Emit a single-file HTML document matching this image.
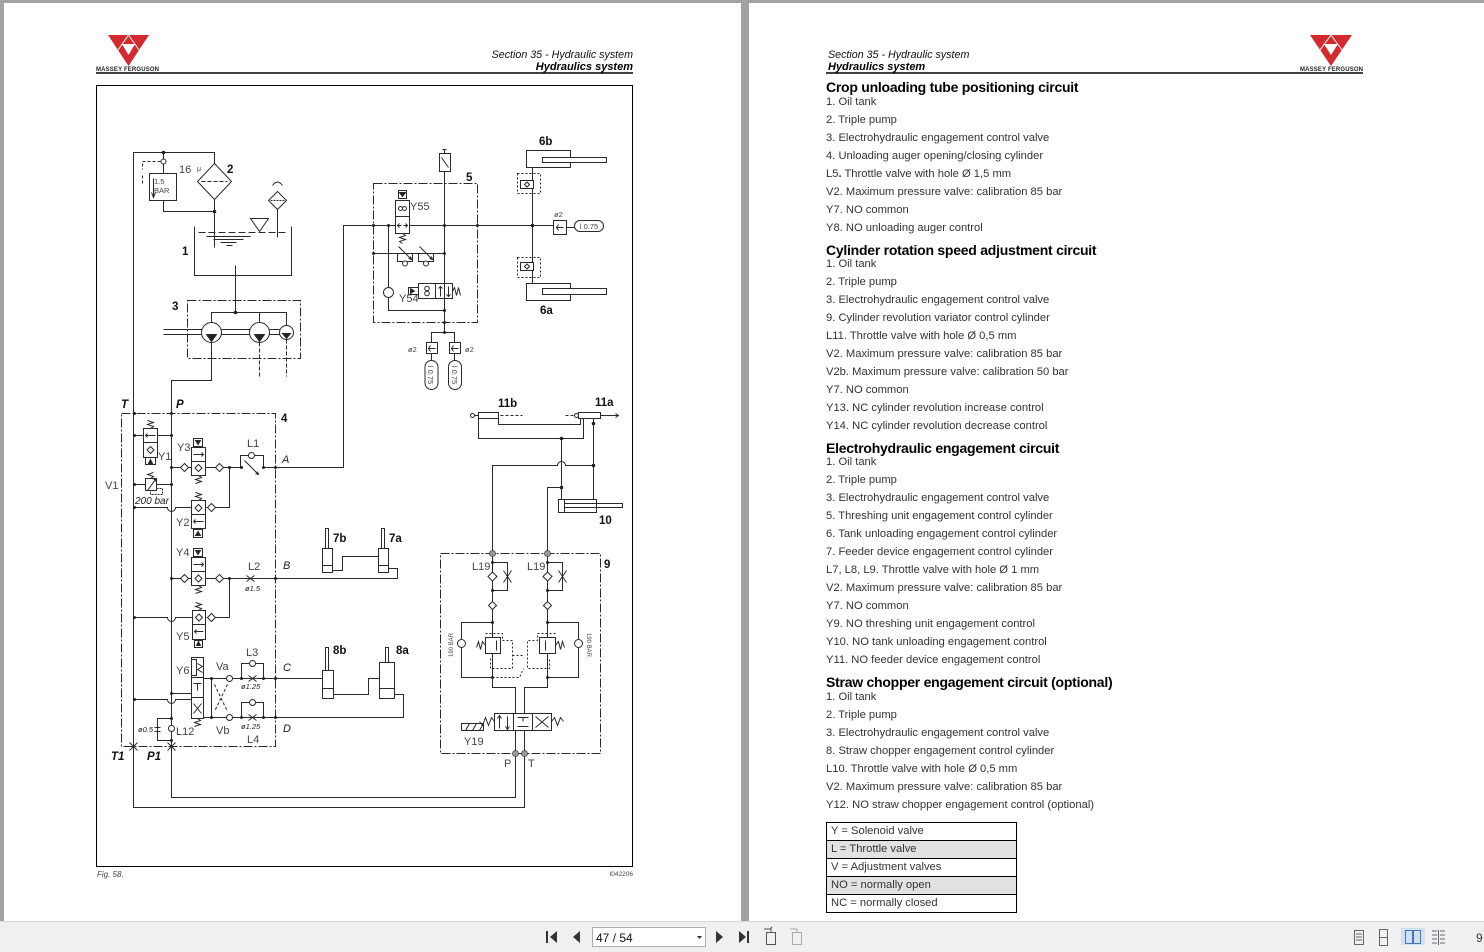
<!DOCTYPE html>
<html><head><meta charset="utf-8">
<style>
html,body{margin:0;padding:0;}
body{width:1484px;height:952px;position:relative;overflow:hidden;background:#a3a3a3;font-family:"Liberation Sans",sans-serif;}
.pg{position:absolute;background:#fff;}
.it{position:absolute;left:826px;font-size:11.2px;color:#333;line-height:14px;white-space:nowrap;}
.h{position:absolute;left:826px;font-size:14px;font-weight:bold;letter-spacing:-0.25px;color:#000;line-height:16px;white-space:nowrap;}
table.lg{position:absolute;left:826px;top:822px;width:191px;border-collapse:collapse;}
table.lg td{border:1px solid #000;height:17px;padding:0 0 0 4px;font-size:11.2px;color:#333;line-height:17px;white-space:nowrap;}
svg{position:absolute;left:0;top:0;}
</style></head><body>
<div class="pg" style="left:4px;top:3px;width:737px;height:920px"></div>
<div class="pg" style="left:749px;top:3px;width:735px;height:920px"></div>

<div class="h" style="top:79px">Crop unloading tube positioning circuit</div>
<div class="it" style="top:95px">1. Oil tank</div>
<div class="it" style="top:113px">2. Triple pump</div>
<div class="it" style="top:131px">3. Electrohydraulic engagement control valve</div>
<div class="it" style="top:149px">4. Unloading auger opening/closing cylinder</div>
<div class="it" style="top:167px">L5<b>.</b> Throttle valve with hole Ø 1,5 mm</div>
<div class="it" style="top:185px">V2. Maximum pressure valve: calibration 85 bar</div>
<div class="it" style="top:203px">Y7. NO common</div>
<div class="it" style="top:221px">Y8. NO unloading auger control</div>

<div class="h" style="top:242px">Cylinder rotation speed adjustment circuit</div>
<div class="it" style="top:257px">1. Oil tank</div>
<div class="it" style="top:275px">2. Triple pump</div>
<div class="it" style="top:293px">3. Electrohydraulic engagement control valve</div>
<div class="it" style="top:311px">9. Cylinder revolution variator control cylinder</div>
<div class="it" style="top:329px">L11. Throttle valve with hole Ø 0,5 mm</div>
<div class="it" style="top:347px">V2. Maximum pressure valve: calibration 85 bar</div>
<div class="it" style="top:365px">V2b. Maximum pressure valve: calibration 50 bar</div>
<div class="it" style="top:383px">Y7. NO common</div>
<div class="it" style="top:401px">Y13. NC cylinder revolution increase control</div>
<div class="it" style="top:419px">Y14. NC cylinder revolution decrease control</div>

<div class="h" style="top:440px">Electrohydraulic engagement circuit</div>
<div class="it" style="top:455px">1. Oil tank</div>
<div class="it" style="top:473px">2. Triple pump</div>
<div class="it" style="top:491px">3. Electrohydraulic engagement control valve</div>
<div class="it" style="top:509px">5. Threshing unit engagement control cylinder</div>
<div class="it" style="top:527px">6. Tank unloading engagement control cylinder</div>
<div class="it" style="top:545px">7. Feeder device engagement control cylinder</div>
<div class="it" style="top:563px">L7, L8, L9. Throttle valve with hole Ø 1 mm</div>
<div class="it" style="top:581px">V2. Maximum pressure valve: calibration 85 bar</div>
<div class="it" style="top:599px">Y7. NO common</div>
<div class="it" style="top:617px">Y9. NO threshing unit engagement control</div>
<div class="it" style="top:635px">Y10. NO tank unloading engagement control</div>
<div class="it" style="top:653px">Y11. NO feeder device engagement control</div>

<div class="h" style="top:674px">Straw chopper engagement circuit (optional)</div>
<div class="it" style="top:690px">1. Oil tank</div>
<div class="it" style="top:708px">2. Triple pump</div>
<div class="it" style="top:726px">3. Electrohydraulic engagement control valve</div>
<div class="it" style="top:744px">8. Straw chopper engagement control cylinder</div>
<div class="it" style="top:762px">L10. Throttle valve with hole Ø 0,5 mm</div>
<div class="it" style="top:780px">V2. Maximum pressure valve: calibration 85 bar</div>
<div class="it" style="top:798px">Y12. NO straw chopper engagement control (optional)</div>

<table class="lg">
<tr><td>Y = Solenoid valve</td></tr>
<tr><td style="background:#e2e2e2">L = Throttle valve</td></tr>
<tr><td>V = Adjustment valves</td></tr>
<tr><td style="background:#e2e2e2">NO = normally open</td></tr>
<tr><td>NC = normally closed</td></tr>
</table>

<svg width="1484" height="952" viewBox="0 0 1484 952">
<!-- logos -->
<polygon points="108,35 149,35 128.5,66" fill="#d42a2f"/>
<polygon points="122,44 135,44 128.5,55" fill="#fff"/>
<path d="M118 50L128.5 35L139 50" stroke="#fff" stroke-width="1" fill="none"/>
<text x="96" y="71" font-size="6" font-weight="bold" fill="#222" letter-spacing="0.15">MASSEY FERGUSON</text>
<polygon points="1310,35 1352,35 1331,66" fill="#d42a2f"/>
<polygon points="1324,44 1338,44 1331,55" fill="#fff"/>
<path d="M1320 50L1331 35L1342 50" stroke="#fff" stroke-width="1" fill="none"/>
<text x="1300" y="71" font-size="6" font-weight="bold" fill="#222" letter-spacing="0.15">MASSEY FERGUSON</text>

<!-- headers -->
<text x="633" y="58" font-size="10.7" font-style="italic" text-anchor="end" fill="#111">Section 35 - Hydraulic system</text>
<text x="633" y="70" font-size="11" font-style="italic" font-weight="bold" text-anchor="end" fill="#000">Hydraulics system</text>
<text x="828" y="58" font-size="10.7" font-style="italic" fill="#111">Section 35 - Hydraulic system</text>
<text x="828" y="70" font-size="11" font-style="italic" font-weight="bold" fill="#000">Hydraulics system</text>
<line x1="96" y1="73" x2="633" y2="73" stroke="#000" stroke-width="1.5"/>
<line x1="826" y1="73" x2="1363" y2="73" stroke="#000" stroke-width="1.5"/>
<rect x="96.5" y="85.5" width="536" height="781" fill="none" stroke="#000" stroke-width="1"/>
<text x="97" y="877" font-size="8" font-style="italic" fill="#444">Fig. 58.</text>
<text x="633" y="876" font-size="6.5" text-anchor="end" fill="#444">I042206</text>

<g transform="translate(0.5,0.5)" fill="none" stroke="#2a2a2a" stroke-width="1">
<!-- main lines -->
<path d="M214 163V152H133V807H524V753"/>
<path d="M211 342V380H171V797H515V753"/>
<!-- 1.5 bar relief -->
<path d="M163 152V173"/>
<circle cx="163" cy="161" r="2.5" fill="#fff"/>
<path d="M160 161H142V169M142 175V183" stroke-dasharray="3 2"/>
<rect x="149" y="173" width="27" height="27"/>
<path d="M153 178V196M151 192L153 197L155 192"/>
<path d="M163 200V211H214"/>
<!-- filter -->
<path d="M214 163L231 181L214 199L197 181Z"/>
<path d="M201 181H227" stroke-dasharray="4 2"/>
<path d="M214 199V247"/>
<!-- tank -->
<path d="M194 226V275H291V226"/>
<path d="M198 232H287" stroke-dasharray="7 3"/>
<path d="M206 236H250M213 239H243M220 242H236M226 245H232"/>
<path d="M250 218H268L259 231Z"/>
<path d="M277 237V209"/>
<path d="M277 191L286 200L277 209L268 200Z"/>
<path d="M270 200H284" stroke-dasharray="2 1"/>
<path d="M272 185Q277 178 282 185"/>
<path d="M235 265V312"/>
<path d="M211 322V312H286V325M259 312V322"/>
<!-- box 3 pumps -->
<rect x="187" y="300" width="113" height="58" stroke-dasharray="9 2 2 2"/>
<path d="M163 329H286M163 334H286"/>
<circle cx="211" cy="332" r="10" fill="#fff"/>
<circle cx="259" cy="332" r="10" fill="#fff"/>
<circle cx="286" cy="332" r="7" fill="#fff"/>
<path d="M206 334H216L211 341Z M254 334H264L259 341Z M282 333H290L286 338Z" fill="#222"/>
<path d="M259 342V376M286 339V376" stroke-dasharray="4 2"/>

<!-- box 5 -->
<path d="M263 467H343V225H553"/>
<rect x="373" y="183" width="104" height="139" stroke-dasharray="9 2 2 2"/>
<path d="M444 171V332"/>
<rect x="439" y="153" width="11" height="18" fill="#fff"/>
<path d="M441 157L448 167M444 153V149M442 149H446"/>
<rect x="395" y="200" width="14" height="33" fill="#fff"/>
<path d="M395 216H409M397 225H401M403 225H407M399 223L397 225L399 227M405 223L407 225L405 227"/>
<circle cx="400" cy="208" r="2"/><circle cx="404" cy="208" r="2"/>
<rect x="398" y="190" width="8" height="8"/>
<path d="M399 192H405L402 196Z" fill="#222"/>
<path d="M402 233L405 235L399 237L405 239L399 241L402 243"/>
<path d="M388 225V287M388 297V310H444"/>
<circle cx="388" cy="292" r="5" fill="#fff"/>
<path d="M373 253H444"/>
<path d="M397 253V261H412V253M418 253V261H433V253"/>
<circle cx="404.5" cy="263" r="2.5" fill="#fff"/><circle cx="425.5" cy="263" r="2.5" fill="#fff"/>
<path d="M398 246L411 259M408 258L411 259L410 256M419 246L432 259M429 258L432 259L431 256"/>
<rect x="418" y="283" width="34" height="15" fill="#fff"/>
<path d="M435 283V298M440 286V296M438 288L440 286L442 288M448 286V296M446 294L448 296L450 294M444 283V298"/>
<circle cx="426.5" cy="288" r="2.3"/><circle cx="426.5" cy="293" r="2.3"/>
<rect x="408" y="287" width="10" height="7"/>
<path d="M410 288L414 290.5L410 293Z" fill="#222"/>
<path d="M452 291L454 287L456 295L458 287L460 295"/>
<path d="M431 342V332H454V342"/>
<rect x="426" y="342" width="11" height="11" fill="#fff"/>
<rect x="449" y="342" width="11" height="11" fill="#fff"/>
<path d="M428 348H435M430 345L428 348L430 351M451 348H458M453 345L451 348L453 351"/>
<path d="M431 353V360M454 353V360"/>
<rect x="424.5" y="360" width="13" height="29" rx="6.5" fill="#fff"/>
<rect x="448" y="360" width="13" height="29" rx="6.5" fill="#fff"/>
<!-- 6a/6b -->
<rect x="526" y="150" width="44" height="17" fill="#fff"/>
<rect x="542" y="157" width="64" height="5" fill="#fff"/>
<path d="M532 167V283"/>
<rect x="517" y="173" width="23" height="20" stroke-dasharray="2 2"/>
<rect x="520" y="180" width="13" height="8" fill="#fff"/>
<path d="M524 184L526.5 181.5L529 184L526.5 186.5Z"/>
<rect x="517" y="257" width="23" height="20" stroke-dasharray="2 2"/>
<rect x="520" y="262" width="13" height="8" fill="#fff"/>
<path d="M524 266L526.5 263.5L529 266L526.5 268.5Z"/>
<rect x="553" y="220" width="13" height="14" fill="#fff"/>
<path d="M556 227H563M558 224L556 227L558 230"/>
<path d="M566 227H574"/>
<rect x="574" y="220" width="29" height="11" rx="5.5" fill="#fff"/>
<rect x="526" y="283" width="44" height="17" fill="#fff"/>
<rect x="542" y="288" width="64" height="6" fill="#fff"/>

<!-- box 4 -->
<rect x="121" y="413" width="154" height="333" stroke-dasharray="9 2 2 2"/>
<path d="M134 435H171"/>
<rect x="143" y="428" width="14" height="29" fill="#fff"/>
<path d="M143 442H157M145 435H155M147 433L145 435L147 437"/>
<path d="M150 446L153.5 449.5L150 453L146.5 449.5Z"/>
<path d="M150 428L153 426L147 424L153 422L147 420"/>
<rect x="145" y="457" width="10" height="7"/>
<path d="M148 463L150 459L152 463Z" fill="#222"/>
<path d="M134 484H171"/>
<rect x="145" y="478" width="11" height="12" fill="#fff"/>
<path d="M147 490L155 479M153 479H155V481M150 478L153 476L147 474L153 472"/>
<path d="M156 488H162V494H150V490" stroke-dasharray="2 1"/>
<path d="M171 467H240"/>
<rect x="191" y="447" width="14" height="28" fill="#fff"/>
<path d="M191 461H205M193 454H203M201 452L203 454L201 456"/>
<path d="M198 464L201.5 467.5L198 471L194.5 467.5Z"/>
<rect x="193" y="438" width="9" height="8"/>
<path d="M195 440H200L197.5 444Z" fill="#222"/>
<path d="M198 475L201 477L195 479L201 481L195 483"/>
<path d="M184 463L188 467L184 471L180 467Z M219 463L223 467L219 471L215 467Z" fill="#fff"/>
<path d="M240 467V455H263V467"/>
<circle cx="251" cy="455" r="3" fill="#fff"/>
<path d="M244 460L258 474M255 473L258 474L257 471"/>
<path d="M229 467V507H206"/>
<path d="M134 507H167A4 4 0 0 0 175 507H191"/>
<rect x="191" y="500" width="14" height="28" fill="#fff"/>
<path d="M191 514H205M193 521H203M195 519L193 521L195 523"/>
<path d="M198 504L201.5 507.5L198 511L194.5 507.5Z"/>
<path d="M198 500L201 498L195 496L201 494L195 492"/>
<rect x="193" y="529" width="9" height="8"/>
<path d="M195 535L197.5 531L200 535Z" fill="#222"/>
<path d="M211 503L215 507L211 511L207 507Z" fill="#fff"/>
<!-- Y4 -->
<path d="M171 578H397V568H388"/>
<rect x="191" y="557" width="14" height="28" fill="#fff"/>
<path d="M191 571H205M193 564H203M201 562L203 564L201 566"/>
<path d="M198 574.5L201.5 578L198 581.5L194.5 578Z"/>
<rect x="193" y="548" width="9" height="8"/>
<path d="M195 550H200L197.5 554Z" fill="#222"/>
<path d="M198 585L201 587L195 589L201 591L195 593"/>
<path d="M184 574L188 578L184 582L180 578Z M219 574L223 578L219 582L215 578Z" fill="#fff"/>
<path d="M246 575L250 578L246 581M254 575L250 578L254 581"/>
<path d="M229 578V617H206"/>
<!-- Y5 -->
<path d="M134 617H167A4 4 0 0 0 175 617H192"/>
<rect x="192" y="610" width="13" height="29" fill="#fff"/>
<path d="M192 624H205M194 631H203M196 629L194 631L196 633"/>
<path d="M198.5 613.5L202 617L198.5 620.5L195 617Z"/>
<path d="M198 610L201 608L195 606L201 604L195 602"/>
<rect x="194" y="640" width="8" height="7"/>
<path d="M196 645L198 641L200 645Z" fill="#222"/>
<path d="M211 613L215 617L211 621L207 617Z" fill="#fff"/>
<!-- Y6 -->
<path d="M171 693H191"/>
<path d="M134 699H167A4 4 0 0 0 175 699H191"/>
<rect x="191" y="657" width="12" height="61" fill="#fff"/>
<path d="M191 677H203M191 697H203M193 683L201 683M197 683V690M193 703L201 713M201 703L193 713"/>
<rect x="191" y="659" width="5" height="16"/>
<path d="M197 663L202 666L197 669L202 672"/>
<path d="M197 718L200 720L194 722L200 724L194 726"/>
<path d="M203 678H322M203 717H403V694H394"/>
<path d="M211 678V717"/>
<path d="M214 684L227 711M227 684L214 711" stroke-dasharray="3 2"/>
<circle cx="229" cy="678" r="3" fill="#fff"/>
<circle cx="229" cy="717" r="3" fill="#fff"/>
<path d="M241 678V663H263V678M241 717V702H263V717"/>
<circle cx="252" cy="663" r="3" fill="#fff"/>
<circle cx="252" cy="702" r="3" fill="#fff"/>
<path d="M248 675L252 678L248 681M256 675L252 678L256 681M248 714L252 717L248 720M256 714L252 717L256 720"/>
<!-- 8b 8a -->
<rect x="322" y="670" width="11" height="28" fill="#fff"/>
<rect x="325" y="647" width="3" height="23" fill="#fff"/>
<path d="M322 688H333"/>
<rect x="379" y="662" width="15" height="36" fill="#fff"/>
<rect x="385" y="647" width="3" height="15" fill="#fff"/>
<path d="M379 688H394"/>
<path d="M333 694H368V678H379"/>
<!-- L12 -->
<circle cx="171" cy="728" r="3" fill="#fff"/>
<path d="M171 718H157V740H171M154 727H160M154 731H160"/>
<path d="M129 742L137 750M137 742L129 750M167 742L175 750M175 742L167 750"/>
<!-- 7b 7a -->
<rect x="322" y="548" width="10" height="24" fill="#fff"/>
<rect x="325" y="528" width="3" height="20" fill="#fff"/>
<path d="M322 565H332"/>
<rect x="378" y="548" width="10" height="24" fill="#fff"/>
<rect x="381" y="528" width="3" height="20" fill="#fff"/>
<path d="M378 565H388"/>
<path d="M332 570H342V556H378"/>

<!-- 11a/11b, 10 -->
<rect x="478" y="412" width="20" height="6" fill="#fff"/>
<path d="M474 415H478"/><circle cx="472" cy="415" r="2"/>
<path d="M500 415H522" stroke-dasharray="3 2"/>
<rect x="578" y="412" width="22" height="6" fill="#fff"/>
<circle cx="576" cy="415" r="2"/>
<path d="M565 415H574" stroke-dasharray="3 2"/>
<path d="M600 415H618M615 413L618 415L615 417"/>
<path d="M478 418V438H583V418"/>
<path d="M498 418V424H580V418"/>
<path d="M593 418V499"/>
<path d="M561 438V499M561 487H547V553"/>
<path d="M492 553V465H557A4 4 0 0 1 565 465H593"/>
<rect x="558" y="499" width="38" height="13" fill="#fff"/>
<path d="M564 499V512M564 503H622V507H564"/>
<!-- box 9 -->
<rect x="440" y="553" width="160" height="200" stroke-dasharray="9 2 2 2"/>
<path d="M492 553V687H515V713M547 553V687H524V713"/>
<path d="M492 562H507V590H492M547 562H562V590H547"/>
<path d="M492 571.5L496.5 576L492 580.5L487.5 576Z M547 571.5L551.5 576L547 580.5L542.5 576Z" fill="#fff"/>
<path d="M503 570L511 582M511 570L503 582M558 570L566 582M566 570L558 582"/>
<path d="M492 601L496 605L492 609L488 605Z M547 601L551 605L547 609L543 605Z" fill="#fff"/>
<path d="M492 622H461V677H492M547 622H578V677H547"/>
<circle cx="461" cy="643" r="4" fill="#fff"/>
<circle cx="578" cy="643" r="4" fill="#fff"/>
<rect x="485" y="637" width="15" height="16" fill="#fff"/>
<rect x="539" y="637" width="16" height="16" fill="#fff"/>
<path d="M485 645L482 641L480 649L478 641L476 647M555 645L558 641L560 649L562 641L564 647"/>
<path d="M496 640V650M545 640V650"/>
<path d="M485 633H502V640H512V668H490V658M555 633H537V640H527V668H549V658M492 677H519L523 668M512 655H522" stroke-dasharray="2 2"/>
<rect x="494" y="713" width="19" height="17" fill="#fff"/>
<rect x="513" y="713" width="19" height="17" fill="#fff"/>
<rect x="532" y="713" width="19" height="17" fill="#fff"/>
<path d="M499 728V716M497 718L499 715L501 718M507 716V728M505 726L507 729L509 726"/>
<path d="M517 717H528M522.5 717V721M517 726H528"/>
<path d="M535 716L548 727M548 716L535 727"/>
<path d="M494 721L491 717L488 725L485 717L482 725L479 721M551 721L554 717L557 725L560 717L563 721"/>
<rect x="461" y="723" width="22" height="7"/>
<path d="M465 730L469 723M472 730L476 723M479 730L483 723"/>
<path d="M515 730V753M524 730V753"/>
</g>
<!-- dots -->
<g fill="#222">
<circle cx="163.5" cy="152.5" r="1.8"/><circle cx="214.5" cy="211.5" r="1.8"/><circle cx="235.5" cy="312.5" r="1.8"/>
<circle cx="373.5" cy="225.5" r="1.5"/><circle cx="388.5" cy="225.5" r="1.5"/><circle cx="444.5" cy="225.5" r="1.5"/><circle cx="477.5" cy="225.5" r="1.5"/>
<circle cx="532.5" cy="225.5" r="1.8"/><circle cx="444.5" cy="253.5" r="1.5"/><circle cx="373.5" cy="253.5" r="1.5"/><circle cx="444.5" cy="310.5" r="1.5"/><circle cx="444.5" cy="322.5" r="1.5"/><circle cx="444.5" cy="332.5" r="1.5"/>
<circle cx="561.5" cy="438.5" r="1.8"/><circle cx="593.5" cy="465.5" r="1.8"/><circle cx="561.5" cy="487.5" r="1.8"/><circle cx="593.5" cy="423.5" r="1.8"/>
<circle cx="134.5" cy="413.5" r="1.5"/><circle cx="171.5" cy="413.5" r="1.5"/><circle cx="134.5" cy="435.5" r="1.5"/><circle cx="171.5" cy="435.5" r="1.5"/><circle cx="134.5" cy="484.5" r="1.5"/><circle cx="171.5" cy="484.5" r="1.5"/><circle cx="171.5" cy="467.5" r="1.5"/><circle cx="229.5" cy="467.5" r="1.5"/><circle cx="241.5" cy="467.5" r="1.5"/><circle cx="263.5" cy="467.5" r="1.5"/><circle cx="275.5" cy="467.5" r="1.5"/>
<circle cx="171.5" cy="578.5" r="1.5"/><circle cx="229.5" cy="578.5" r="1.5"/><circle cx="275.5" cy="578.5" r="1.5"/><circle cx="134.5" cy="507.5" r="1.5"/><circle cx="134.5" cy="617.5" r="1.5"/><circle cx="134.5" cy="699.5" r="1.5"/><circle cx="171.5" cy="693.5" r="1.5"/>
<circle cx="211.5" cy="678.5" r="1.5"/><circle cx="211.5" cy="717.5" r="1.5"/><circle cx="241.5" cy="678.5" r="1.5"/><circle cx="263.5" cy="678.5" r="1.5"/><circle cx="241.5" cy="717.5" r="1.5"/><circle cx="263.5" cy="717.5" r="1.5"/><circle cx="275.5" cy="678.5" r="1.5"/><circle cx="275.5" cy="717.5" r="1.5"/><circle cx="171.5" cy="718.5" r="1.5"/><circle cx="171.5" cy="740.5" r="1.5"/>
<circle cx="492.5" cy="622.5" r="1.5"/><circle cx="492.5" cy="677.5" r="1.5"/><circle cx="547.5" cy="622.5" r="1.5"/><circle cx="547.5" cy="677.5" r="1.5"/><circle cx="492.5" cy="562.5" r="1.5"/><circle cx="492.5" cy="590.5" r="1.5"/><circle cx="547.5" cy="562.5" r="1.5"/><circle cx="547.5" cy="590.5" r="1.5"/>
</g>
<g fill="#999" stroke="#444" stroke-width="0.8">
<circle cx="492.5" cy="553.5" r="3"/><circle cx="547.5" cy="553.5" r="3"/><circle cx="515.5" cy="753.5" r="3"/><circle cx="524.5" cy="753.5" r="3"/>
</g>
<!-- diagram labels -->
<g font-family="Liberation Sans, sans-serif" fill="#111" font-weight="bold" font-size="11.5">
<text x="227" y="173">2</text><text x="182" y="255">1</text><text x="172" y="310">3</text><text x="466" y="181">5</text>
<text x="539" y="145">6b</text><text x="540" y="314">6a</text><text x="281" y="422">4</text>
<text x="333" y="542">7b</text><text x="389" y="542">7a</text><text x="333" y="654">8b</text><text x="396" y="654">8a</text>
<text x="498" y="407">11b</text><text x="595" y="406">11a</text><text x="599" y="524">10</text><text x="604" y="568">9</text>
<g font-style="italic"><text x="121" y="408">T</text><text x="176" y="408">P</text><text x="111" y="760">T1</text><text x="147" y="760">P1</text></g>
</g>
<g font-family="Liberation Sans, sans-serif" fill="#444" font-size="11">
<text x="179" y="173">16</text><text x="197" y="171" font-size="7">μ</text>
<text x="410" y="210">Y55</text><text x="399" y="302">Y54</text>
<text x="158" y="460">Y1</text><text x="105" y="489">V1</text><text x="177" y="451">Y3</text><text x="247" y="447">L1</text>
<text x="176" y="526">Y2</text><text x="176" y="556">Y4</text><text x="248" y="570">L2</text><text x="176" y="640">Y5</text>
<text x="246" y="656">L3</text><text x="176" y="674">Y6</text><text x="216" y="670">Va</text><text x="216" y="734">Vb</text>
<text x="247" y="743">L4</text><text x="176" y="735">L12</text>
<text x="472" y="570">L19</text><text x="527" y="570">L19</text><text x="464" y="745">Y19</text>
<text x="504" y="767">P</text><text x="528" y="767">T</text>
<g font-style="italic" fill="#222"><text x="282" y="463">A</text><text x="283" y="569">B</text><text x="283" y="671">C</text><text x="283" y="732">D</text>
<text x="135" y="504" font-size="10">200 bar</text>
<text x="245" y="591" font-size="7.5">ø1.5</text><text x="241" y="689" font-size="7.5">ø1.25</text><text x="241" y="729" font-size="7.5">ø1.25</text><text x="138" y="732" font-size="7.5">ø0.5</text></g>
<text x="154" y="184" font-size="7.5">1.5</text><text x="154" y="193" font-size="7.5">BAR</text>
<text x="408" y="352" font-size="7.5">ø2</text><text x="465" y="352" font-size="7.5">ø2</text><text x="554" y="217" font-size="7.5">ø2</text>
<text x="589" y="229" font-size="7.5" text-anchor="middle">l 0.75</text>
<text transform="translate(428,375) rotate(90)" font-size="7.5" text-anchor="middle">l 0.75</text>
<text transform="translate(452,375) rotate(90)" font-size="7.5" text-anchor="middle">l 0.75</text>
<text transform="translate(453,645) rotate(-90)" font-size="6" text-anchor="middle">190 BAR</text>
<text transform="translate(587,645) rotate(90)" font-size="6" text-anchor="middle">190 BAR</text>
</g>

<!-- toolbar -->
<rect x="0" y="921" width="1484" height="31" fill="#f0f0f0"/>
<line x1="0" y1="921.5" x2="1484" y2="921.5" stroke="#d8d8d8"/>
<g fill="#333">
<rect x="546" y="931" width="2" height="12"/><polygon points="557,931 557,943 550,937"/>
<polygon points="580,931 580,943 573,937"/>
<polygon points="716,931 716,943 723,937"/>
<polygon points="739,931 739,943 746,937"/><rect x="747" y="931" width="2" height="12"/>
</g>
<rect x="592.5" y="927.5" width="113" height="19" fill="#fff" stroke="#adadad"/>
<text x="596" y="942" font-size="12" fill="#111">47 / 54</text>
<polygon points="697,936 702,936 699.5,939" fill="#333"/>
<g fill="none" stroke="#555">
<rect x="766.5" y="932.5" width="9" height="12"/><path d="M764 929H771V932M770 929L772 927"/>
<rect x="792.5" y="932.5" width="9" height="12" stroke="#aaa"/><path d="M790 929H797V932" stroke="#aaa"/>
</g>
<rect x="1401" y="928" width="24" height="17" fill="#cfe0f3"/>
<g fill="none" stroke="#666">
<rect x="1354.5" y="930.5" width="9" height="14"/><path d="M1356 934H1362M1356 937H1362M1356 940H1362"/>
<rect x="1379.5" y="929.5" width="8" height="8"/><rect x="1379.5" y="937.5" width="8" height="8"/>
<rect x="1405.5" y="930.5" width="7" height="13" stroke="#4a74b0"/><rect x="1413.5" y="930.5" width="7" height="13" stroke="#4a74b0"/>
<path d="M1432 931H1437M1432 935H1437M1432 939H1437M1432 943H1437M1440 931H1445M1440 935H1445M1440 939H1445M1440 943H1445M1438.5 930V945"/>
</g>
<text x="1476" y="942" font-size="12" fill="#333">9</text>
</svg>
</body></html>
